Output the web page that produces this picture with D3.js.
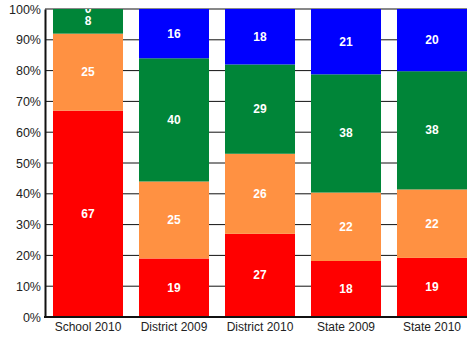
<!DOCTYPE html>
<html>
<head>
<meta charset="utf-8">
<script src="https://cdn.jsdelivr.net/npm/d3@7"></script>
<style>
html,body{margin:0;padding:0;background:#fff;}
svg{display:block;}
</style>
</head>
<body>
<svg id="chart" width="467" height="341"></svg>
<script>
const categories = ["School 2010", "District 2009", "District 2010", "State 2009", "State 2010"];
const seriesNames = ["s1", "s2", "s3", "s4"];
const s1 = [67, 19, 27, 18, 19];
const s2 = [25, 25, 26, 22, 22];
const s3 = [8, 40, 29, 38, 38];
const s4 = [0, 16, 18, 21, 20];
const colors = ["#ff0000", "#ff9142", "#008538", "#0000ff"];
const yTicks = [0, 0.1, 0.2, 0.3, 0.4, 0.5, 0.6, 0.7, 0.8, 0.9, 1.0];

const seriesVals = [s1, s2, s3, s4];
const rows = categories.map((c, i) => {
  const r = {cat: c};
  seriesNames.forEach((s, k) => r[s] = seriesVals[k][i]);
  return r;
});

const svg = d3.select("#chart");
const mLeft = 45, mRight = 475, mTop = 9, mBottom = 317;

const x = d3.scaleBand().domain(categories).range([mLeft, mRight]).paddingInner(0.186).paddingOuter(0.093);
const y = d3.scaleLinear().domain([0, 1]).range([mBottom, mTop]);

const stack = d3.stack().keys(seriesNames).offset(d3.stackOffsetExpand);
const stacked = stack(rows);

// gridlines
svg.append("g").selectAll("line").data(yTicks).join("line")
  .attr("x1", mLeft).attr("x2", 467)
  .attr("y1", d => y(d)).attr("y2", d => y(d))
  .attr("stroke", "#111").attr("stroke-width", 1);

svg.append("defs").append("clipPath").attr("id", "plotclip")
  .append("rect").attr("x", mLeft).attr("y", mTop).attr("width", 467 - mLeft).attr("height", mBottom - mTop);

const g = svg.append("g").attr("clip-path", "url(#plotclip)");

stacked.forEach((layer, k) => {
  g.append("g").selectAll("rect").data(layer).join("rect")
    .attr("x", d => x(d.data.cat))
    .attr("width", x.bandwidth())
    .attr("y", d => y(d[1]))
    .attr("height", d => y(d[0]) - y(d[1]))
    .attr("fill", colors[k]);
});

stacked.forEach((layer, k) => {
  g.append("g").selectAll("text").data(layer).join("text")
    .attr("x", d => x(d.data.cat) + x.bandwidth() / 2)
    .attr("y", d => (y(d[0]) + y(d[1])) / 2)
    .attr("text-anchor", "middle")
    .attr("dominant-baseline", "central")
    .attr("font-family", "Liberation Sans, Arial, sans-serif")
    .attr("font-size", 12)
    .attr("font-weight", "bold")
    .attr("fill", "#fff")
    .text(d => d.data[layer.key]);
});

// y axis
const yAxis = d3.axisLeft(y).tickValues(yTicks).tickSize(0).tickPadding(4).tickFormat(d3.format(".0%"));
const ya = svg.append("g").attr("transform", `translate(${mLeft},0)`).call(yAxis);
ya.select(".domain").attr("stroke", "#111").attr("stroke-width", 2);
ya.selectAll("text").attr("font-family", "Liberation Sans, Arial, sans-serif").attr("font-size", 12.5).attr("fill", "#222");

// x axis
const xAxis = d3.axisBottom(x).tickSize(0).tickPadding(5);
const xa = svg.append("g").attr("transform", `translate(0,${mBottom})`).call(xAxis);
xa.select(".domain").remove();
xa.selectAll("text").attr("font-family", "Liberation Sans, Arial, sans-serif").attr("font-size", 12).attr("fill", "#222");

svg.append("line").attr("x1", mLeft - 1).attr("x2", 467).attr("y1", mBottom).attr("y2", mBottom)
  .attr("stroke", "#111").attr("stroke-width", 2);
</script>
</body>
</html>
